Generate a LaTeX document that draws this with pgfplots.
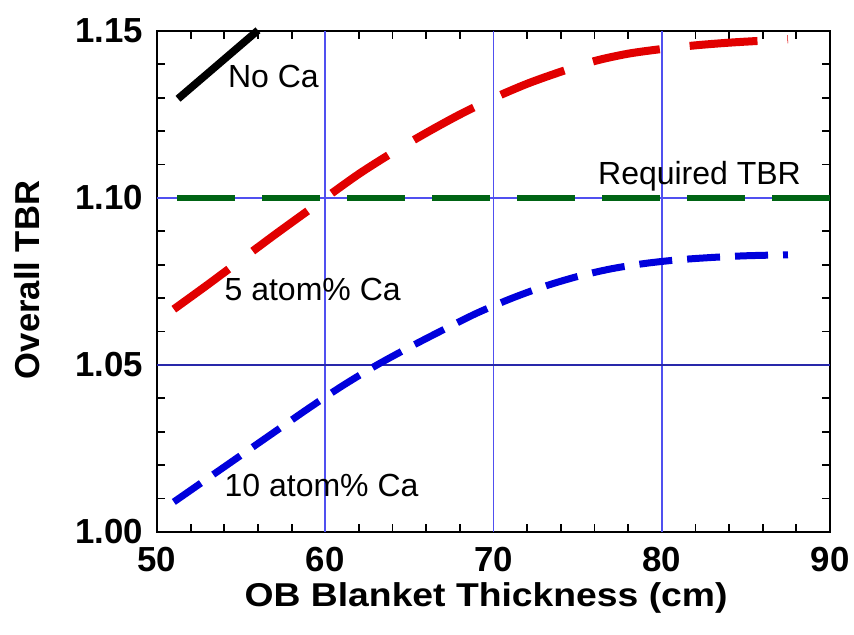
\documentclass[border=0pt]{standalone}
\usepackage{pgfplots}
\pgfplotsset{compat=1.18}
\usepackage{fontspec}
\setmainfont{Liberation Sans}
\newfontfamily\labelfont{Liberation Sans}[FakeStretch=1.13]
\definecolor{tbrred}{RGB}{225,0,0}
\definecolor{tbrblue}{RGB}{0,0,220}
\definecolor{tbrgreen}{RGB}{0,100,20}
\definecolor{gridblue}{RGB}{80,80,240}
\definecolor{griddark}{RGB}{40,40,170}
\begin{document}
\begin{tikzpicture}
\path[use as bounding box] (-78.5pt,-51.5pt) rectangle (348.5pt,266pt);
\begin{axis}[
  at={(0,0)}, anchor=south west,
  scale only axis, width=336.5pt, height=250.5pt,
  xmin=50, xmax=90, ymin=1.00, ymax=1.15,
  xtick={50,60,70,80,90}, ytick={1.00,1.05,1.10,1.15},
  minor x tick num=4, minor y tick num=4,
  tick align=inside, major tick length=6pt, minor tick length=4pt,
  tick style={black, line width=0.9pt},
  axis line style={line width=1.1pt},
  /pgf/number format/assume math mode=true,
  y tick label style={/pgf/number format/fixed, /pgf/number format/fixed zerofill,
    /pgf/number format/precision=2, xshift=-3.5pt},
  ticklabel style={font=\fontsize{17.4}{20}\selectfont\bfseries},
  x tick label style={yshift=-4pt},
  xlabel={OB Blanket Thickness (cm)},
  ylabel={Overall TBR},
  xlabel style={font=\labelfont\fontsize{16.5}{19}\selectfont\bfseries,
    at={(axis description cs:0.489,-0.1325)}, anchor=center},
  ylabel style={font=\fontsize{17.3}{20}\selectfont\bfseries,
    at={(axis description cs:-0.1924,0.503)}, anchor=center},
  clip=false,
]
% grid lines
\draw[gridblue, line width=0.9pt] (axis cs:60,1.00) -- (axis cs:60,1.15);
\draw[gridblue, line width=0.9pt] (axis cs:70,1.00) -- (axis cs:70,1.15);
\draw[gridblue, line width=0.9pt] (axis cs:80,1.00) -- (axis cs:80,1.15);
\draw[gridblue, line width=0.8pt] (axis cs:50,1.10) -- (axis cs:90,1.10);
\draw[griddark, line width=0.6pt] (axis cs:50,1.05) -- (axis cs:90,1.05);
% required TBR
\addplot[tbrgreen, line width=3pt, dash pattern=on 29pt off 13.5pt, dash phase=32.5pt]
  coordinates {(50,1.10) (90,1.10)};
% no Ca
\addplot[black, line width=3.8pt] coordinates {(51.25,1.1297) (56.0,1.1502)};
% 5 atom% Ca
\addplot[tbrred, line width=4pt, smooth, dash pattern=on 34pt off 15pt]
  coordinates {
  (51,1.0667) (53,1.074) (55,1.0815) (57,1.089) (59,1.0963) (60,1.100)
  (62,1.1072) (64,1.1136) (66,1.1195) (68,1.125) (70,1.1299) (72,1.1342)
  (74,1.1378) (76,1.1410) (78,1.1432) (80,1.1446) (82,1.1457) (84,1.1465)
  (86,1.1471) (87.5,1.1475)};
% 10 atom% Ca
\addplot[tbrblue, line width=3.5pt, smooth, dash pattern=on 16.5pt off 7.5pt]
  coordinates {
  (51,1.009) (53,1.016) (55,1.023) (57,1.030) (59,1.037) (61,1.0437)
  (63,1.0498) (65,1.0553) (67,1.0605) (69,1.0655) (71,1.0698) (73,1.0735)
  (75,1.0765) (77,1.0788) (79,1.0804) (81,1.0815) (83,1.0822) (85,1.0827)
  (87.5,1.083)};
\node[anchor=west, font=\fontsize{16}{18}\selectfont] at (axis cs:53.8,1.1365) {No Ca};
\node[anchor=west, font=\fontsize{16}{18}\selectfont] at (axis cs:75.8,1.1066) {Required TBR};
\node[anchor=west, font=\fontsize{16}{18}\selectfont] at (axis cs:53.6,1.0725) {5 atom\% Ca};
\node[anchor=west, font=\fontsize{16}{18}\selectfont] at (axis cs:53.6,1.0138) {10 atom\% Ca};
\end{axis}
\end{tikzpicture}
\end{document}
